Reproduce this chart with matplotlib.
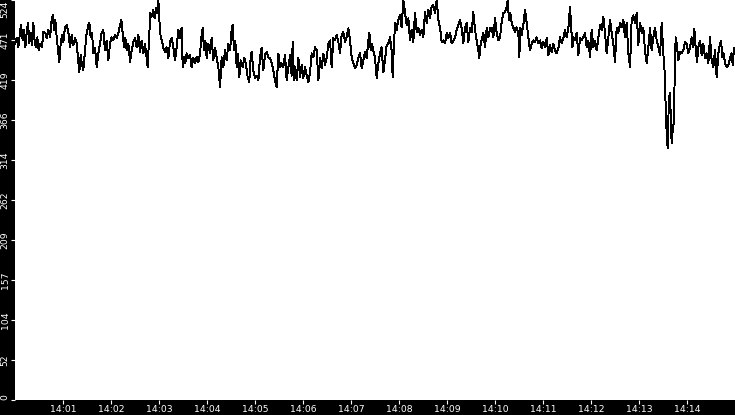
import numpy as np
import matplotlib.pyplot as plt

# seconds after 14:00:00 and the measured value at that moment
seconds = [
    0, 2.1, 4.2, 6.3, 7.5, 9.6, 11.3, 12.9, 14.6, 16.3,
    17.9, 19.6, 21.3, 22.9, 24.6, 26.3, 27.9, 29.6, 31.3, 33.8,
    35.4, 37.9, 39.6, 41.7, 43.8, 45.8, 47.1, 48.8, 50.4, 52.1,
    53.8, 55.4, 57.1, 58.8, 60.4, 62.5, 64.6, 66.7, 68.8, 70.8,
    72.9, 75.0, 77.1, 78.8, 80.4, 82.1, 83.8, 85.4, 87.5, 89.6,
    91.7, 92.9, 94.6, 96.3, 97.9, 100.0, 102.1, 104.2, 106.3, 108.3,
    110.4, 112.5, 114.6, 116.7, 118.8, 120.8, 122.9, 125.0, 127.1, 129.2,
    131.3, 132.9, 134.6, 136.3, 137.9, 139.6, 141.7, 143.8, 145.8, 147.9,
    150.0, 152.1, 154.2, 156.3, 158.3, 160.4, 162.5, 164.6, 165.8, 167.5,
    169.2, 170.8, 172.9, 174.6, 176.3, 177.9, 179.2, 180.4, 182.1, 183.8,
    185.4, 187.5, 189.6, 191.7, 193.8, 195.8, 197.9, 200.0, 202.1, 204.2,
    206.3, 208.3, 209.6, 211.3, 212.9, 214.6, 216.7, 218.8, 220.8, 222.9,
    225.0, 227.1, 229.2, 231.3, 233.3, 234.6, 236.3, 237.9, 239.6, 241.7,
    243.8, 245.8, 247.9, 250.0, 252.1, 254.2, 256.3, 258.3, 260.4, 262.5,
    264.6, 266.7, 268.8, 270.8, 272.1, 273.8, 275.4, 277.1, 278.8, 280.4,
    282.1, 284.6, 286.7, 288.8, 290.8, 292.9,
    293.8, 295.8, 297.9, 300.0, 302.1, 304.2, 306.3, 308.3, 310.4, 312.5,
    314.6, 316.7, 318.8, 320.8, 322.9, 325.0, 327.1, 329.2, 331.3, 333.3,
    335.4, 337.5, 339.6, 341.7, 343.8, 345.8, 347.1, 348.8, 350.4, 352.1,
    354.2, 356.3, 358.3, 360.4, 362.5, 364.6, 366.7, 368.8, 370.8, 372.9,
    375.0, 377.1, 379.2, 381.3, 383.3, 385.4, 387.5, 389.6, 391.7, 393.8,
    395.8, 397.9, 400.0, 402.1, 404.2, 406.3, 408.3, 410.4, 412.5, 414.6,
    416.7, 418.8, 420.8, 422.9, 425.0, 427.1, 429.2, 431.3, 433.3, 435.4,
    437.5, 439.6, 441.7, 443.0, 444.6, 446.3, 447.9, 450.0, 452.1, 454.2,
    456.3, 458.3, 460.4, 462.5, 464.6, 466.7, 468.8, 470.8, 472.1, 473.8,
    475.4, 477.1, 479.2, 481.3, 483.3, 485.4, 487.5, 489.6, 491.7, 493.8,
    495.8, 497.9, 500.0, 502.1, 504.2, 506.3, 508.3, 510.4, 512.5, 514.6,
    516.7, 518.8, 520.8, 522.9, 525.0, 527.1, 529.2, 531.3, 533.3, 535.4,
    537.5, 539.6, 541.7, 543.8, 545.8, 547.9, 550.0, 552.1, 554.2, 556.3,
    558.3, 560.4, 562.5, 564.6, 566.7, 568.8, 570.8, 572.9, 575.0, 577.1,
    579.2, 580.4, 582.1, 583.8, 585.4, 587.5, 589.6, 591.7, 593.8,
    595.8, 597.9, 600.0, 602.1, 604.2, 606.3, 608.3, 610.4, 612.5, 614.6,
    615.8, 617.5, 619.2, 620.8, 622.9, 625.0, 627.1, 629.2, 630.4, 631.7,
    633.3, 635.4, 637.5, 639.6, 641.7, 643.8, 645.8, 647.9, 650.0, 652.1,
    654.2, 656.3, 658.3, 660.4, 662.5, 664.6, 666.7, 668.8, 670.8, 672.9,
    675.0, 677.1, 679.2, 681.3, 683.3, 685.4, 687.5, 689.6, 691.7, 693.8,
    695.0, 696.7, 698.3, 700.0, 702.1, 704.2, 706.3, 708.3, 710.4, 712.5,
    714.6, 716.7, 718.8, 720.8, 722.9, 725.0, 727.1, 729.2, 731.3, 733.3,
    735.4, 737.5, 739.6, 741.7, 743.8, 745.8, 747.9, 750.0, 752.1, 754.2,
    756.3, 758.3, 760.4, 762.5, 764.6, 766.7, 768.8, 770.8, 772.9, 775.0,
    777.1, 779.2, 781.3, 783.3, 785.4, 787.5, 789.6, 791.7, 793.8, 795.8,
    797.9, 800.0, 802.1, 804.2, 806.3, 808.3, 810.4, 812.5, 813.3, 814.6,
    815.8, 817.1, 818.3, 819.6, 820.8, 822.1, 823.3, 824.6, 825.8, 827.1,
    829.2, 831.3, 833.3, 835.4, 837.5, 839.6, 841.7, 843.8, 845.8, 847.9,
    849.2, 850.8, 852.5, 854.2, 856.3, 858.3, 860.4, 862.5, 864.6, 866.7,
    868.8, 870.8, 872.9, 875.0, 877.1, 879.2, 881.3, 882.5, 884.2, 885.8,
    887.5, 889.6, 891.7, 893.8, 895.8, 897.1, 898.8, 900.0,
]
values = [
    467, 474, 462, 482, 491, 471, 485, 462, 481, 494,
    467, 481, 465, 494, 469, 462, 475, 458, 467, 462,
    482, 481, 474, 485, 475, 498, 504, 485, 498, 475,
    458, 443, 467, 478, 469, 488, 491, 482, 462, 478,
    465, 474, 467, 448, 429, 452, 439, 432, 458, 481,
    491, 494, 475, 481, 454, 461, 436, 454, 467, 481,
    485, 458, 471, 445, 467, 475, 471, 478, 474, 481,
    491, 498, 481, 462, 474, 458, 467, 443, 458, 469,
    474, 462, 478, 456, 471, 454, 467, 448, 436, 471,
    507, 502, 511, 500, 513, 507, 524, 498, 475, 471,
    461, 456, 462, 448, 469, 474, 462, 445, 462, 485,
    474, 488, 436, 449, 441, 454, 448, 452, 436, 448,
    441, 449, 443, 454, 478, 487, 458, 471, 448, 467,
    454, 474, 445, 461, 449, 436, 410, 449, 436, 458,
    445, 467, 458, 485, 491, 458, 471, 436, 454, 423,
    445, 436, 448, 439, 423, 416,
    441, 456, 432, 422, 425, 419, 449, 461, 432, 452,
    456, 449, 448, 441, 432, 419, 410, 454, 436, 441,
    436, 452, 419, 436, 452, 425, 469, 419, 436, 419,
    448, 423, 439, 422, 436, 425, 416, 429, 454, 449,
    462, 458, 419, 448, 435, 454, 439, 448, 467, 471,
    436, 474, 471, 478, 469, 454, 478, 482, 469, 475,
    487, 471, 449, 441, 435, 439, 448, 454, 435, 445,
    456, 448, 471, 481, 458, 467, 458, 448, 422, 441,
    454, 462, 429, 445, 465, 467, 475, 458, 423, 471,
    494, 485, 498, 504, 488, 524, 507, 491, 500, 471,
    485, 469, 507, 482, 487, 478, 485, 475, 508, 494,
    511, 500, 515, 517, 507, 524, 498, 488, 469, 471,
    467, 481, 474, 481, 467, 471, 475, 485, 491, 498,
    487, 467, 488, 494, 469, 487, 482, 508, 485, 471,
    458, 448, 467, 474, 481, 462, 487, 475, 487,
    488, 475, 500, 481, 471, 475, 495, 507, 508, 515,
    524, 498, 507, 494, 488, 482, 488, 481, 449, 488,
    478, 491, 511, 494, 475, 458, 467, 471, 469, 475,
    467, 471, 461, 469, 462, 474, 452, 465, 456, 467,
    458, 454, 461, 475, 467, 474, 485, 475, 487, 515,
    494, 462, 475, 471, 481, 452, 474, 471, 475, 481,
    462, 471, 449, 485, 462, 471, 458, 474, 491, 485,
    502, 481, 454, 475, 498, 481, 467, 443, 488, 481,
    494, 488, 498, 475, 494, 454, 436, 498, 504, 494,
    507, 465, 494, 481, 487, 458, 441, 462, 487, 458,
    475, 488, 471, 462, 452, 494, 454, 423, 383, 349,
    330, 383, 402, 376, 336, 353, 362, 419, 475, 467,
    445, 456, 454, 458, 469, 467, 454, 462, 475, 462,
    486, 462, 443, 462, 471, 452, 467, 448, 454, 441,
    475, 445, 436, 458, 423, 454, 467, 471, 449, 454,
    441, 436, 439, 448, 454, 439, 461, 454,
]

y_max = 524
y_ticks = np.linspace(0, y_max, 11)
minute_ticks = np.arange(60, 900, 60)

fig = plt.figure(figsize=(7.35, 4.15), dpi=100, facecolor="black")
ax = fig.add_axes([15 / 735, 15 / 415, 720 / 735, 400 / 415])
ax.set_facecolor("white")

ax.plot(seconds, values, color="black", lw=0.7, antialiased=False)

ax.set_xlim(0, 900)
ax.set_ylim(0, y_max)
for s in ax.spines.values():
    s.set_visible(False)

ax.set_xticks(minute_ticks)
ax.set_xticklabels(["14:%02d" % (m // 60) for m in minute_ticks])
ax.set_yticks(y_ticks)
ax.set_yticklabels([str(int(v + 1e-6)) for v in y_ticks], rotation=90, va="center")

ax.tick_params(colors="white", labelsize=6.7, width=0.8)
ax.tick_params(axis="x", length=3.2, pad=0.5)
ax.tick_params(axis="y", length=3, pad=0.8)

# the end labels are pushed inside the plot height
ylabels = ax.get_yticklabels()
ylabels[0].set_va("bottom")
ylabels[-1].set_va("top")

fig.savefig("out.png", dpi=100, facecolor="black")
